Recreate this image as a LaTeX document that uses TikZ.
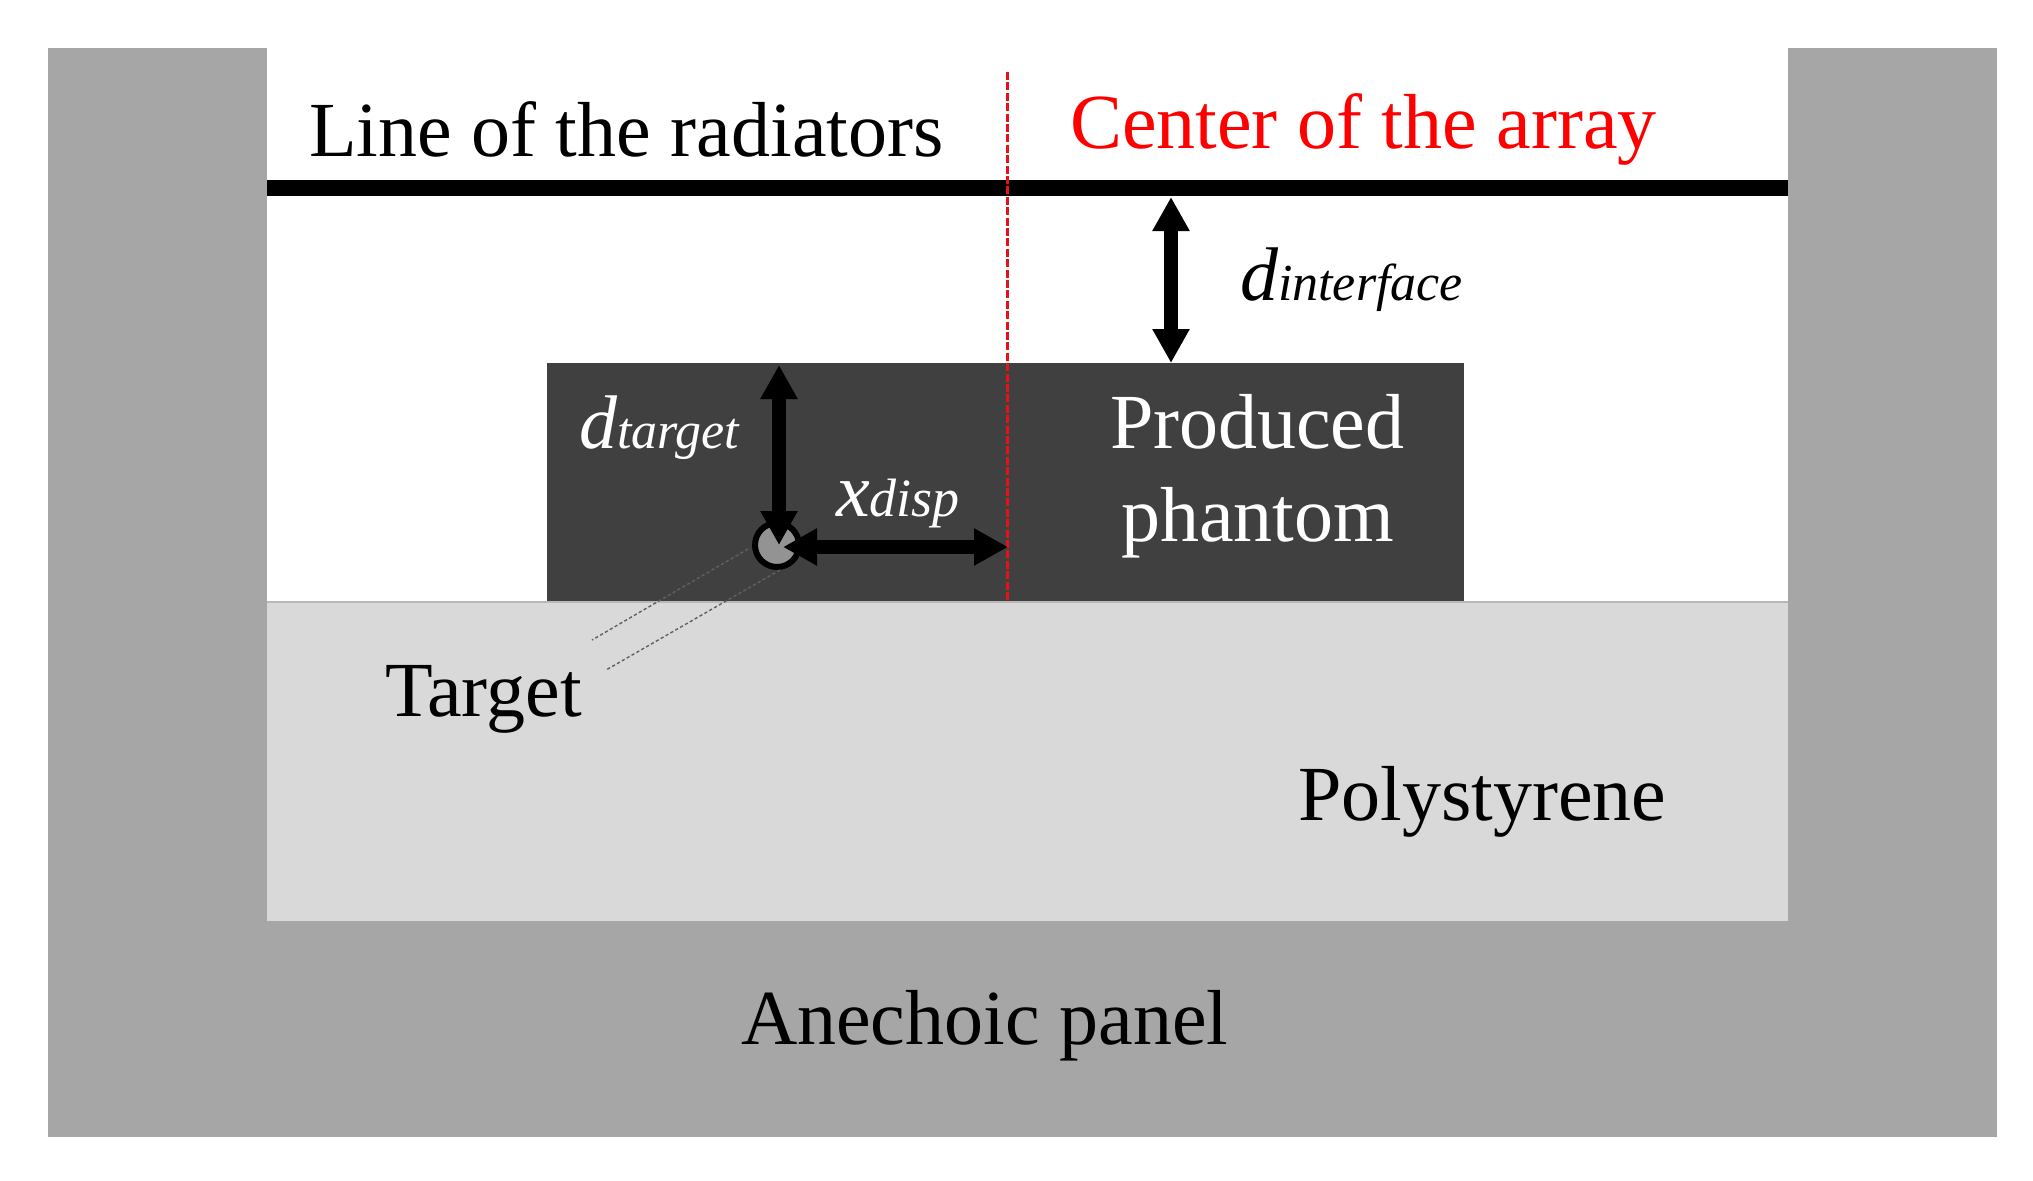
\documentclass[tikz,border=0pt]{standalone}
\usepackage{fontspec}
\setmainfont{Liberation Serif}
\usetikzlibrary{arrows.meta}
\definecolor{panel}{HTML}{A6A6A6}
\definecolor{poly}{HTML}{D9D9D9}
\definecolor{phant}{HTML}{404040}
\definecolor{redtxt}{HTML}{FF0000}
\definecolor{redln}{HTML}{E8101A}
\tikzset{
  x=0.5pt,y=-0.5pt,
  block/.style={anchor=north west,inner sep=0pt,outer sep=0pt,draw=none},
  lbl/.style={inner sep=0pt,outer sep=0pt,anchor=base west,font=\fontsize{39}{39}\selectfont},
  sym/.style={inner sep=0pt,outer sep=0pt,anchor=base west,font=\itshape\fontsize{38}{38}\selectfont},
  dim/.style={line width=6.8pt,{Triangle[length=17pt,width=17.5pt]}-{Triangle[length=17pt,width=17.5pt]}},
  leader/.style={draw=gray!75!black,line width=0.7pt,dash pattern=on 1.6pt off 1.2pt},
}
\newcommand{\boxat}[6]{\node[block,fill=#6,minimum width=#4*0.5pt,minimum height=#5*0.5pt] (#1) at (#2,#3) {};}
\begin{document}
\begin{tikzpicture}
\useasboundingbox (0,0) rectangle (2033,1180);
\fill[white] (0,0) rectangle (2033,1180);
\boxat{outer}{48}{48}{1949}{1089}{panel}
\boxat{inner}{267}{48}{1521}{873}{white}
\boxat{polyst}{267}{602}{1521}{319}{poly}
\boxat{phantom}{547}{363}{917}{238}{phant}
\draw[poly!85!black,line width=1pt] (polyst.north west) -- (polyst.north east);
\boxat{radline}{267}{180}{1521}{16}{black}
% centre line
\coordinate (ctop) at (1007.5,72);
\coordinate (cbot) at (1007.5,601);
\draw[redln,line width=1.5pt,dash pattern=on 4pt off 1.2pt] (ctop) -- (cbot);
% target
\coordinate (tc) at (777,545);
\draw[black,fill=gray!85,line width=3pt] (tc) circle (22);
% leaders
\coordinate (l1a) at (748,549);
\coordinate (l1b) at (592,640);
\coordinate (l2a) at (780,570);
\coordinate (l2b) at (606,670);
\draw[leader] (l1a) -- (l1b);
\draw[leader] (l2a) -- (l2b);
% dims
\coordinate (ia) at (1171,197);
\coordinate (ib) at (1171,363);
\coordinate (ta) at (779,365);
\coordinate (tb) at (779,545);
\coordinate (xa) at (783,547);
\coordinate (xb) at (1008,547);
\draw[dim] (ia) -- (ib);
\draw[dim] (ta) -- (tb);
\draw[dim] (xa) -- (xb);
% text
\node[lbl] (t1) at (309,156) {Line of the radiators};
\node[lbl,text=redtxt] (t2) at (1070,148) {Center of the array};
\node[lbl,text=white] (t3) at (1110,448) {Produced};
\node[lbl,text=white] (t4) at (1121,541) {phantom};
\node[lbl] (t5) at (385,716) {Target};
\node[lbl] (t6) at (1298,820) {Polystyrene};
\node[lbl] (t7) at (741,1044) {Anechoic panel};
\node[sym] (s1) at (1240,300) {d{\fontsize{26}{26}\selectfont interface}};
\node[sym,text=white] (s2) at (579,448) {d{\fontsize{26}{26}\selectfont target}};
\node[sym,text=white] (s3) at (836,516) {x{\fontsize{27}{27}\selectfont disp}};
\end{tikzpicture}
\end{document}
